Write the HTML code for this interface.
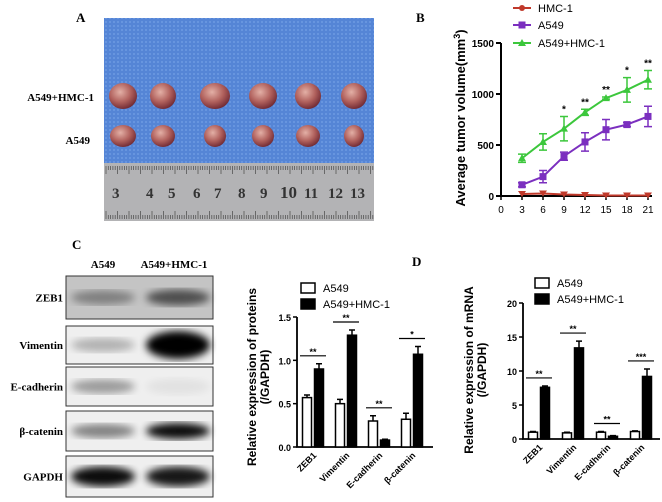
<!DOCTYPE html>
<html><head><meta charset="utf-8"><style>
body{margin:0;background:#fff}
svg{display:block}
.s{font-family:"Liberation Serif",serif;font-weight:bold}
.a{font-family:"Liberation Sans",sans-serif}
</style></head><body>
<svg id="fig" width="662" height="502" viewBox="0 0 662 502" xmlns="http://www.w3.org/2000/svg">
<defs>
<pattern id="mesh" width="4" height="4" patternUnits="userSpaceOnUse"><rect width="4" height="4" fill="#5585d6"/><circle cx="2" cy="2" r="0.9" fill="#74a0e6"/></pattern>
<radialGradient id="tum" cx="40%" cy="35%" r="70%"><stop offset="0" stop-color="#e3b0a6"/><stop offset="0.55" stop-color="#b0605c"/><stop offset="1" stop-color="#6a2530"/></radialGradient>
<filter id="blur"><feGaussianBlur stdDeviation="4"/></filter>
</defs>
<g>
<text class="s" x="76" y="22" font-size="13">A</text>
<rect x="104" y="18" width="270" height="146" fill="url(#mesh)"/>
<rect x="104" y="163" width="270" height="58" fill="#b3b3b5"/>
<g id="rticks" stroke="#555" stroke-width="0.8"></g>
<g fill="#333" class="s" font-size="15">
<text x="112" y="198">3</text><text x="146" y="198">4</text><text x="168" y="198">5</text><text x="193" y="198">6</text><text x="214" y="198">7</text><text x="238" y="198">8</text><text x="260" y="198">9</text><text x="280" y="198" font-size="17">10</text><text x="304" y="198">11</text><text x="328" y="198">12</text><text x="350" y="198">13</text>
</g>
<g id="tumors"></g>
<text class="s" x="94" y="101" font-size="11" text-anchor="end">A549+HMC-1</text>
<text class="s" x="90" y="144" font-size="11" text-anchor="end">A549</text>
</g>
<g id="pb">
<text class="s" x="416" y="22" font-size="13">B</text>
<text class="a" font-size="13" font-weight="bold" transform="translate(465,118) rotate(-90)" text-anchor="middle">Average tumor volume(mm<tspan dy="-5" font-size="9">3</tspan><tspan dy="5">)</tspan></text>
</g>
<g>
<text class="s" x="72" y="249" font-size="13">C</text>
<text class="s" x="103" y="268" font-size="11" text-anchor="middle">A549</text>
<text class="s" x="174" y="268" font-size="11" text-anchor="middle">A549+HMC-1</text>
<g id="blot"></g>
</g>
<text class="s" x="412" y="266" font-size="13">D</text>
<g id="pc"></g>
<g id="pd"></g>
</svg>
<script>
const NS="http://www.w3.org/2000/svg";
function el(p,t,a){const e=document.createElementNS(NS,t);for(const k in a)e.setAttribute(k,a[k]);p.appendChild(e);return e;}
const rt=document.getElementById('rticks');
for(let x=106;x<374;x+=2.3){const l=(Math.round((x-106)/2.3)%5==0)?8:4;el(rt,'line',{x1:x,x2:x,y1:166,y2:166+l});el(rt,'line',{x1:x,x2:x,y1:219,y2:219-l});}
const tumorX=[123,163,215,263,308,354];
const tumorR1=[14,13,15,14,13,13];
const tumorR2=[13,12,11,11,12,10];
const tg=document.getElementById('tumors');
tumorX.forEach((x,i)=>{
 let e=el(tg,'ellipse',{cx:x,cy:96,rx:tumorR1[i],ry:13,fill:'url(#tum)'});
 
 e=el(tg,'ellipse',{cx:x,cy:136,rx:tumorR2[i],ry:11,fill:'url(#tum)'});
 
});
const blotNames=['ZEB1','Vimentin','E-cadherin','β-catenin','GAPDH'];
const blotY=[276,326,367,411,456];const blotH=[43,38,39,40,41];
const bandL=[0.35,0.25,0.35,0.45,0.95];const bandR=[0.6,1,0.05,0.95,0.9];
const bg=document.getElementById('blot');
blotNames.forEach((n,i)=>{
 const y=blotY[i],h=blotH[i];
 let r=el(bg,'rect',{x:66,y:y,width:147,height:h,fill:i==0?'#c4c4c4':'#efefef',stroke:'#333','stroke-width':1});
 
 el(bg,'ellipse',{cx:103,cy:y+h/2,rx:32,ry:i==4?10:7,fill:'#000',opacity:bandL[i],filter:'url(#blur)'});
 el(bg,'ellipse',{cx:178,cy:y+h/2,rx:32,ry:i==1?14:(i==4?10:8),fill:'#000',opacity:bandR[i],filter:'url(#blur)'});
 const t=el(bg,'text',{x:63,y:y+h/2+4,'text-anchor':'end','font-size':11,class:'s'});t.textContent=n;
 
});
const days=[3,6,9,12,15,18,21];
const hmc=[20,25,15,10,5,5,5];
const a549=[110,190,390,530,650,700,780];
const a549Err=[20,60,40,90,100,20,100];
const combo=[370,530,660,820,960,1040,1140];
const comboErr=[40,80,120,30,10,120,90];
const sig=['','','*','**','**','*','**'];
const xTicks=[0,3,6,9,12,15,18,21];const yTicks=[0,500,1000,1500];
const bx=v=>501+v*(648-501)/21, by=v=>196-v*(196-43)/1500;
const pb=document.getElementById('pb');
let ax=el(pb,'path',{d:`M501,43V196H652`,stroke:'#000','stroke-width':2,fill:'none'});

yTicks.forEach(v=>{el(pb,'line',{x1:496,x2:501,y1:by(v),y2:by(v),stroke:'#000','stroke-width':2});
 const t=el(pb,'text',{x:494,y:by(v)+4,'text-anchor':'end','font-size':10,'font-weight':'bold',class:'a'});t.textContent=v;
 });
xTicks.forEach(v=>{el(pb,'line',{x1:bx(v),x2:bx(v),y1:196,y2:200,stroke:'#000','stroke-width':1.5});
 const t=el(pb,'text',{x:bx(v),y:213,'text-anchor':'middle','font-size':10,class:'a'});t.textContent=v;
 });
function series(vals,err,col,shape,name){
 const g=el(pb,'g',{});
 el(g,'polyline',{points:days.map((d,i)=>bx(d)+','+by(vals[i])).join(' '),stroke:col,'stroke-width':2,fill:'none'});
 days.forEach((d,i)=>{const x=bx(d),y=by(vals[i]);
  if(err){const e=err[i];el(g,'path',{d:`M${x},${by(vals[i]-e)}V${by(vals[i]+e)}M${x-4},${by(vals[i]+e)}h8M${x-4},${by(vals[i]-e)}h8`,stroke:col,'stroke-width':1.5,fill:'none'});}
  let m;
  if(shape=='s')m=el(g,'rect',{x:x-3.5,y:y-3.5,width:7,height:7,fill:col});
  else if(shape=='t')m=el(g,'path',{d:`M${x},${y-4}L${x+4},${y+3}L${x-4},${y+3}Z`,fill:col});
  else m=el(g,'path',{d:`M${x-4},${y-3}L${x+4},${y-3}L${x},${y+3}Z`,fill:col});
  });
}
series(hmc,null,'#c0392b','v','hmc1');
series(a549,a549Err,'#7b2fbf','s','a549');
series(combo,comboErr,'#3cc73c','t','a549-hmc1');
days.forEach((d,i)=>{if(!sig[i])return;const t=el(pb,'text',{x:bx(d),y:by(combo[i]+comboErr[i])-4,'text-anchor':'middle','font-size':10,'font-weight':'bold',class:'a'});t.textContent=sig[i];
 });
[['HMC-1','#c0392b','c',8],['A549','#7b2fbf','s',25],['A549+HMC-1','#3cc73c','t',43]].forEach(([n,c,s,y])=>{
 const g=el(pb,'g',{});
 el(g,'line',{x1:513,x2:531,y1:y,y2:y,stroke:c,'stroke-width':2});
 if(s=='c')el(g,'circle',{cx:522,cy:y,r:3,fill:c});else if(s=='s')el(g,'rect',{x:518.5,y:y-3.5,width:7,height:7,fill:c});else el(g,'path',{d:`M522,${y-4}L526,${y+3}L518,${y+3}Z`,fill:c});
 const t=el(g,'text',{x:538,y:y+4,'font-size':11,class:'a'});t.textContent=n;});
const genes=['ZEB1','Vimentin','E-cadherin','β-catenin'];
const protA=[0.57,0.5,0.3,0.32];const protAErr=[0.03,0.05,0.06,0.07];
const protH=[0.9,1.29,0.08,1.07];const protHErr=[0.06,0.06,0.01,0.09];
const protSig=['**','**','**','*'];const protTicks=['0.0','0.5','1.0','1.5'];
const mrnaA=[1,0.9,1.0,1.1];const mrnaAErr=[0.1,0.1,0.1,0.1];
const mrnaH=[7.6,13.4,0.4,9.2];const mrnaHErr=[0.2,1.0,0.1,1.1];
const mrnaSig=['**','**','**','***'];const mrnaTicks=['0','5','10','15','20'];
function bars(id,cfg){
 const g=document.getElementById(id);
 const y=v=>cfg.y0-v*(cfg.y0-cfg.yTop)/cfg.max;
 el(g,'path',{d:`M${cfg.ax},${cfg.yTop}V${cfg.y0}H${cfg.xEnd}`,stroke:'#000','stroke-width':1.8,fill:'none'});
 cfg.ticks.forEach(t=>{const v=parseFloat(t);el(g,'line',{x1:cfg.ax-4,x2:cfg.ax,y1:y(v),y2:y(v),stroke:'#000','stroke-width':1.5});
  const tx=el(g,'text',{x:cfg.ax-6,y:y(v)+4,'text-anchor':'end','font-size':9,'font-weight':'bold',class:'a'});tx.textContent=t;
  });
 genes.forEach((n,i)=>{const c=cfg.ax+cfg.first+i*cfg.step;
  const bw=9;
  [[cfg.A,cfg.AE,'#fff',c],[cfg.H,cfg.HE,'#000',c+12]].forEach(([arr,err,f,x])=>{
   const top=y(arr[i]+err[i]);
   el(g,'path',{d:`M${x},${y(arr[i])}V${top}M${x-3},${top}h6`,stroke:'#000','stroke-width':1.5});
   const r=el(g,'rect',{x:x-bw/2,y:y(arr[i]),width:bw,height:cfg.y0-y(arr[i]),fill:f,stroke:'#000','stroke-width':1.5});
   });
  const sy=y(Math.max(cfg.A[i]+cfg.AE[i],cfg.H[i]+cfg.HE[i]))-8;
  el(g,'line',{x1:c-7,x2:c+19,y1:sy,y2:sy,stroke:'#000','stroke-width':1.2});
  const st=el(g,'text',{x:c+6,y:sy-1,'text-anchor':'middle','font-size':9,'font-weight':'bold',class:'a'});st.textContent=cfg.sig[i];
  
  const lt=el(g,'text',{transform:`translate(${c+10},${cfg.y0+9}) rotate(-45)`,'text-anchor':'end','font-size':9,'font-weight':'bold',class:'a'});lt.textContent=n;
  });
 cfg.title.forEach((t,k)=>{const tx=el(g,'text',{transform:`translate(${cfg.tx+k*13},${cfg.ty}) rotate(-90)`,'text-anchor':'middle','font-size':12,'font-weight':'bold',class:'a'});tx.textContent=t;
  });
 [['A549','#fff',cfg.ly],['A549+HMC-1','#000',cfg.ly+16]].forEach(([n,f,ly])=>{
  const lg=el(g,'g',{});
  el(lg,'rect',{x:cfg.lx,y:ly-5,width:14,height:10,fill:f,stroke:'#000','stroke-width':1.5});
  const t=el(lg,'text',{x:cfg.lx+22,y:ly+4,'font-size':11,class:'a'});t.textContent=n;});
}
bars('pc',{A:protA,AE:protAErr,H:protH,HE:protHErr,sig:protSig,ticks:protTicks,max:1.5,ax:297,y0:447,yTop:317,xEnd:433,first:10,step:33,tx:256,ty:377,title:['Relative expression of proteins','(/GAPDH)'],lx:301,ly:288});
bars('pd',{A:mrnaA,AE:mrnaAErr,H:mrnaH,HE:mrnaHErr,sig:mrnaSig,ticks:mrnaTicks,max:20,ax:523,y0:439,yTop:303,xEnd:660,first:10,step:34,tx:473,ty:370,title:['Relative expression of mRNA','(/GAPDH)'],lx:535,ly:283});
</script>
</body></html>
